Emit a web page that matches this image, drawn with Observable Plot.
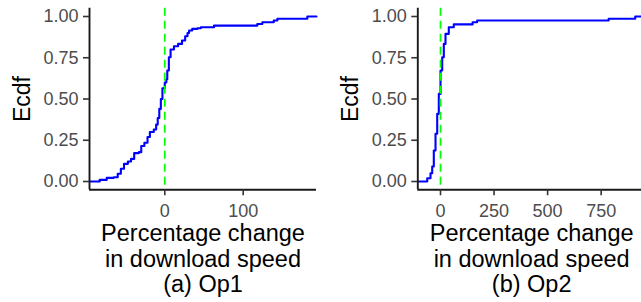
<!DOCTYPE html>
<html>
<head>
<meta charset="utf-8">
<script src="https://cdn.jsdelivr.net/npm/d3@7"></script>
<script src="https://cdn.jsdelivr.net/npm/@observablehq/plot@0.6"></script>
<style>
  html, body { margin: 0; padding: 0; background: white; }
  #c { position: relative; width: 641px; height: 302px; overflow: hidden; background: white; }
  #c svg { position: absolute; top: 0; }
  #c [aria-label$="tick label"] { fill: #4d4d4d; }
  #c [aria-label$="-axis tick"] { stroke: #333333; stroke-width: 1.6px; }
</style>
</head>
<body>
<div id="c"></div>
<script>
// Panel (a) Op1 — ECDF step points (x = percentage change, level after step)
const op1X = [-96, -83, -74, -65, -60, -56, -52, -47, -43, -39, -33, -30, -26, -22, -19, -14, -11, -9, -7, -5, -3, 0, 2, 3.2, 5.2, 7.4, 11.7, 17, 22, 26, 29, 31, 35, 41.6, 46, 62.8, 118, 124.4, 139, 143.6, 181.8, 193.5];
const op1Ecdf = [0, 0.01, 0.022, 0.026, 0.047, 0.077, 0.107, 0.121, 0.137, 0.172, 0.178, 0.215, 0.235, 0.27, 0.3, 0.315, 0.345, 0.385, 0.44, 0.5, 0.565, 0.6, 0.62, 0.673, 0.753, 0.8, 0.82, 0.834, 0.855, 0.88, 0.9, 0.915, 0.925, 0.929, 0.935, 0.945, 0.955, 0.965, 0.976, 0.986, 1, 1];

// Panel (b) Op2
const op2X = [-106, -62, -46.7, -38.7, -31.3, -23.3, -15.4, -7.9, 0, 7.9, 15.4, 23.3, 38.7, 62, 150, 171, 785, 909, 957];
const op2Ecdf = [0, 0.02, 0.05, 0.091, 0.188, 0.289, 0.41, 0.531, 0.673, 0.753, 0.834, 0.895, 0.935, 0.952, 0.965, 0.976, 0.986, 1, 1];

const op1Domain = [-96, 193.5];
const op2Domain = [-106, 957];
const op1Ticks = [0, 100];
const op2Ticks = [0, 250, 500, 750];
const yTicks = [0, 0.25, 0.5, 0.75, 1];
const captions = ["Percentage change\nin download speed\n(a) Op1", "Percentage change\nin download speed\n(b) Op2"];
const yLabel = "Ecdf";

function panel(xs, ys, domain, ticks, caption, width, marginLeft, marginRight) {
  return Plot.plot({
    width, height: 302,
    marginLeft, marginRight, marginTop: 7.75, marginBottom: 112.75,
    x: {domain},
    y: {domain: [-0.05, 1.05]},
    style: {fontFamily: "'Liberation Sans', Arial, sans-serif", background: "white", overflow: "visible"},
    marks: [
      Plot.line(xs, {x: xs, y: ys, curve: "step-after", stroke: "blue", strokeWidth: 2.1}),
      Plot.ruleX([0], {stroke: "#00ff00", strokeWidth: 1.7, strokeDasharray: "8,5"}),
      Plot.ruleX([domain[0]], {stroke: "#1a1a1a", strokeWidth: 1.9}),
      Plot.ruleY([-0.05], {stroke: "#1a1a1a", strokeWidth: 1.9}),
      Plot.axisY(yTicks, {tickSize: 6, tickPadding: 5, tickFormat: d3.format(".2f"), fontSize: 18, label: null}),
      Plot.axisX(ticks, {tickSize: 6, tickPadding: 8, tickFormat: d3.format("d"), fontSize: 18, label: null}),
      Plot.text([yLabel], {frameAnchor: "left", rotate: -90, dx: -67, textAnchor: "middle", lineAnchor: "middle", fontSize: 23, fill: "black"}),
      Plot.text([caption], {frameAnchor: "bottom", dy: 68.75, textAnchor: "middle", lineAnchor: "middle", lineHeight: 1.09, fontSize: 23.5, fill: "black"})
    ]
  });
}

const c = document.getElementById("c");
const p1 = panel(op1X, op1Ecdf, op1Domain, op1Ticks, captions[0], 320, 89, 4);
p1.style.left = "0px";
const p2 = panel(op2X, op2Ecdf, op2Domain, op2Ticks, captions[1], 317, 89.3, 0);
p2.style.left = "328px";
c.appendChild(p1);
c.appendChild(p2);
</script>
</body>
</html>
